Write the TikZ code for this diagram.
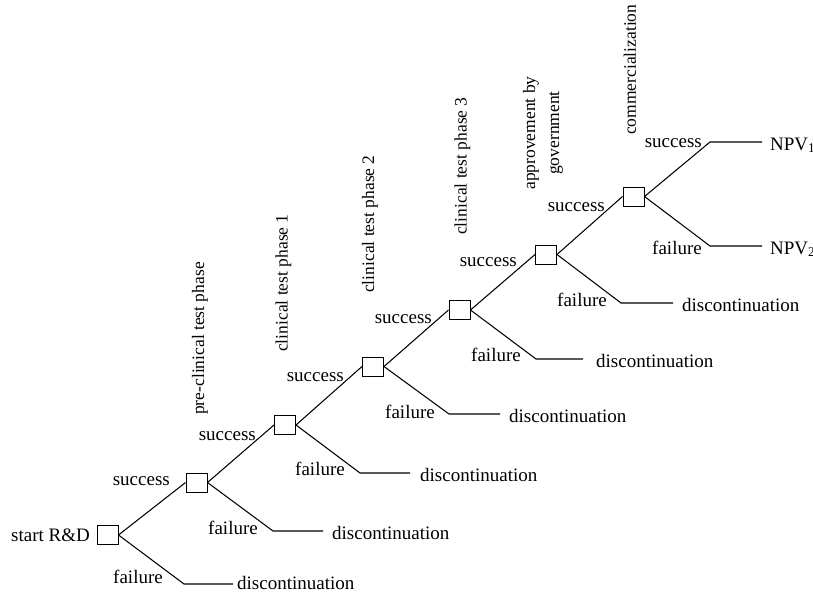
\documentclass[tikz,border=0pt]{standalone}
\usepackage{fontspec}
\setmainfont{Liberation Serif}
\begin{document}
\begin{tikzpicture}[x=1pt,y=-1pt,
  box/.style={draw, line width=1pt, minimum width=21pt, minimum height=19pt, inner sep=0pt},
  conn/.style={line width=1.05pt},
  lbl/.style={inner sep=0pt, font=\fontsize{19}{22}\selectfont},
  vlbl/.style={inner sep=0pt, rotate=90, font=\fontsize{17.5}{24}\selectfont}]
\useasboundingbox (0,0) rectangle (813,592);

% decision boxes
\node[box] (b0) at (107.5,535) {};
\node[box] (b1) at (196.5,482.5) {};
\node[box] (b2) at (285,425) {};
\node[box] (b3) at (373,366.5) {};
\node[box] (b4) at (459.5,310) {};
\node[box] (b5) at (546,254.5) {};
\node[box] (b6) at (633.5,196.5) {};

\node[lbl, anchor=east] (start) at (90,535) {start R\&D};

% success connectors
\draw[conn] (b0.east) -- (b1.west);
\draw[conn] (b1.east) -- (b2.west);
\draw[conn] (b2.east) -- (b3.west);
\draw[conn] (b3.east) -- (b4.west);
\draw[conn] (b4.east) -- (b5.west);
\draw[conn] (b5.east) -- (b6.west);

% failure elbows
\coordinate (e0) at (184,584); \coordinate (d0) at (233,584);
\coordinate (e1) at (273,531); \coordinate (d1) at (323,531);
\coordinate (e2) at (360,473); \coordinate (d2) at (410,473);
\coordinate (e3) at (449,414); \coordinate (d3) at (500,414);
\coordinate (e4) at (536,359); \coordinate (d4) at (583,359);
\coordinate (e5) at (621,303); \coordinate (d5) at (673,303);
\coordinate (e6) at (710,246); \coordinate (d6) at (762,246);
\coordinate (s6) at (710,142); \coordinate (u6) at (762,142);

\draw[conn] (b0.east) -- (e0) -- (d0);
\draw[conn] (b1.east) -- (e1) -- (d1);
\draw[conn] (b2.east) -- (e2) -- (d2);
\draw[conn] (b3.east) -- (e3) -- (d3);
\draw[conn] (b4.east) -- (e4) -- (d4);
\draw[conn] (b5.east) -- (e5) -- (d5);
\draw[conn] (b6.east) -- (e6) -- (d6);
\draw[conn] (b6.east) -- (s6) -- (u6);

% outcomes
\node[lbl, anchor=base west] (t0) at (237,589) {discontinuation};
\node[lbl, anchor=base west] (t1) at (332,539) {discontinuation};
\node[lbl, anchor=base west] (t2) at (420,481) {discontinuation};
\node[lbl, anchor=base west] (t3) at (509,422) {discontinuation};
\node[lbl, anchor=base west] (t4) at (596,367) {discontinuation};
\node[lbl, anchor=base west] (t5) at (682,311) {discontinuation};
\node[lbl, anchor=base west] (n2) at (770,254) {NPV\textsubscript{2}};
\node[lbl, anchor=base west] (n1) at (770,150) {NPV\textsubscript{1}};

% success labels
\node[lbl, anchor=east] (sl1) at (170,481) {success};
\node[lbl, anchor=east] (sl2) at (256,436) {success};
\node[lbl, anchor=east] (sl3) at (344,377) {success};
\node[lbl, anchor=east] (sl4) at (432,319) {success};
\node[lbl, anchor=east] (sl5) at (517,262) {success};
\node[lbl, anchor=east] (sl6) at (605,207) {success};
\node[lbl, anchor=east] (sl7) at (702,143) {success};

% failure labels
\node[lbl, anchor=east] (fl0) at (163,577) {failure};
\node[lbl, anchor=east] (fl1) at (258,528) {failure};
\node[lbl, anchor=east] (fl2) at (345,469) {failure};
\node[lbl, anchor=east] (fl3) at (435,412) {failure};
\node[lbl, anchor=east] (fl4) at (521,355) {failure};
\node[lbl, anchor=east] (fl5) at (607,300) {failure};
\node[lbl, anchor=east] (fl6) at (702,248) {failure};

% phase labels
\node[vlbl, anchor=west] (p1) at (200,415) {pre-clinical test phase};
\node[vlbl, anchor=west] (p2) at (283.5,352) {clinical test phase 1};
\node[vlbl, anchor=west] (p3) at (370,293) {clinical test phase 2};
\node[vlbl, anchor=west] (p4) at (462.5,235) {clinical test phase 3};
\node[vlbl, align=center] (p5) at (543,133) {approvement by\\government};
\node[vlbl, anchor=west] (p6) at (630,135) {commercialization};
\end{tikzpicture}
\end{document}
